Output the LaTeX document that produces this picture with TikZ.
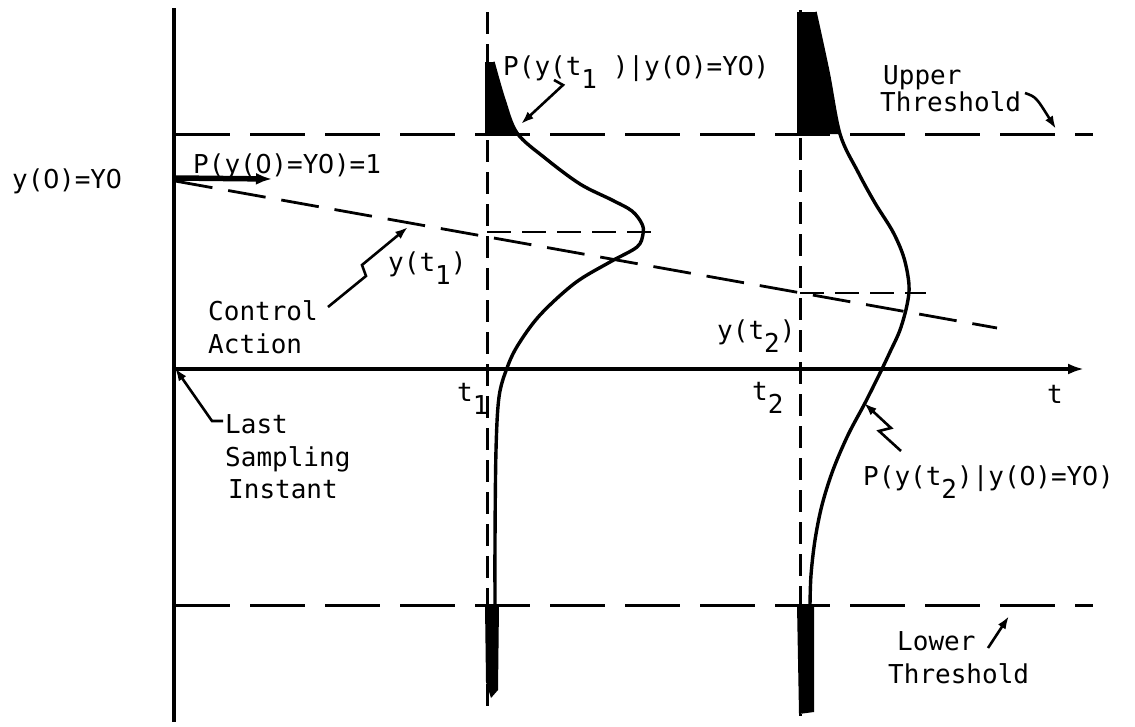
\documentclass[tikz,border=0pt]{standalone}
\usepackage{fontspec}
\usetikzlibrary{arrows.meta}
\newfontfamily\twfont{DejaVu Sans Mono}
\newfontfamily\plainzerofont{DejaVu Sans}
\newcommand\lowsub[1]{\raisebox{-13pt}{#1}}
\newcommand\zr{\makebox[0.602em][c]{\plainzerofont 0}}
\begin{document}
\begin{tikzpicture}[x=1pt,y=-1pt,
  lbl/.style={anchor=base west,inner sep=0pt,font=\twfont\fontsize{26}{32}\selectfont},
  axisline/.style={line width=3.4pt},
  curve/.style={line width=3.4pt,line join=round},
  vdash/.style={line width=3pt,dash pattern=on 22pt off 10pt},
  hthresh/.style={line width=3pt,dash pattern=on 55pt off 20pt},
  ctrl/.style={line width=2.8pt,dash pattern=on 38pt off 16pt},
  shortdash/.style={line width=2.8pt,dash pattern=on 24pt off 11pt},
  leader/.style={line width=2.6pt,-{Latex[length=13pt,width=9pt]}}]
\useasboundingbox (0,0) rectangle (1135,726);

% named coordinates
\coordinate (axTop) at (174,8);
\coordinate (axBot) at (174,722);
\coordinate (origin) at (174,369);
\coordinate (axEnd) at (1084,369);
\coordinate (t1Top) at (487,12);
\coordinate (t1Bot) at (487,716);
\coordinate (t2Top) at (800,10);
\coordinate (t2Bot) at (800,716);
\coordinate (utL) at (175,134);
\coordinate (utR) at (1093,134);
\coordinate (ltL) at (175,605);
\coordinate (ltR) at (1093,605);
\coordinate (ctrlA) at (175,181);
\coordinate (ctrlB) at (997,328);
\coordinate (y1L) at (487,232);
\coordinate (y1R) at (653,232);
\coordinate (y2L) at (800,293);
\coordinate (y2R) at (926,293);
\coordinate (p0A) at (175,178);
\coordinate (p0B) at (272,179);

% axes
\draw[axisline] (axTop) -- (axBot);
\draw[axisline,-{Latex[length=16pt,width=11pt]}] (origin) -- (axEnd);

% thresholds and verticals
\draw[hthresh] (utL) -- (utR);
\draw[hthresh] (ltL) -- (ltR);
\draw[vdash] (t1Top) -- (t1Bot);
\draw[vdash] (t2Top) -- (t2Bot);

% control action line
\draw[ctrl] (ctrlA) -- (ctrlB);
\draw[shortdash] (y1L) -- (y1R);
\draw[shortdash] (y2L) -- (y2R);

% initial probability arrow
\draw[line width=5.5pt,-{Latex[length=16pt,width=12pt]}] (p0A) -- (p0B);

% shaded tails
\fill (485,134) -- (485,62) -- plot[smooth] coordinates {(493,62) (504,100) (517,134)} -- cycle;
\fill (797,134) -- (797,12) -- plot[smooth] coordinates {(815,12) (828,72) (840,134)} -- cycle;
\fill (485,605) -- (499,605) -- (498,690) -- (491,698) -- (486,682) -- cycle;
\fill (797,605) -- (814,605) -- (814,712) -- (799,714) -- cycle;

% density curves
\draw[curve] plot[smooth,tension=0.55] coordinates {(493,62) (504,100) (517,133) (545,158) (580,184) (612,200) (632,211) (642,224) (643,234) (637,247) (610,262) (575,283) (540,315) (518,345) (507,368) (499,397) (496,450) (495,540) (495,605)};
\draw[curve] plot[smooth,tension=0.55] coordinates {(815,12) (828,72) (840,134) (858,172) (875,203) (893,232) (904,258) (909,285) (907,305) (900,330) (890,352) (880,373) (865,403) (848,435) (833,470) (822,505) (815,540) (811,575) (810,605)};

% labels
\node[lbl] (ly0) at (12,188) {y(\zr)=Y\zr};
\node[lbl] (lp0) at (193,173) {P(y(\zr)=Y\zr)=1};
\node[lbl] (lp1) at (503,75) {P(y(t\lowsub{1}\ )|y(\zr)=Y\zr)};
\node[lbl] (lup) at (883,84) {Upper};
\node[lbl] (luth) at (880,111) {Threshold};
\node[lbl] (lyt1) at (388,271) {y(t\lowsub{1})};
\node[lbl] (lctrl) at (208,320) {Control};
\node[lbl] (lact) at (208,353) {Action};
\node[lbl] (lt1) at (457,401) {t\lowsub{1}};
\node[lbl] (lyt2) at (717,339) {y(t\lowsub{2})};
\node[lbl] (lt2) at (752,400) {t\lowsub{2}};
\node[lbl] (lt) at (1047,403) {t};
\node[lbl] (llast) at (225,433) {Last};
\node[lbl] (lsamp) at (225,466) {Sampling};
\node[lbl] (linst) at (228,498) {Instant};
\node[lbl] (lp2) at (863,485) {P(y(t\lowsub{2})|y(\zr)=Y\zr)};
\node[lbl] (llow) at (897,650) {Lower};
\node[lbl] (llth) at (888,683) {Threshold};

% leader coordinates
\coordinate (a1s) at (554,80);
\coordinate (a1k) at (563,85);
\coordinate (a1e) at (521,124);
\coordinate (aus) at (1025,93);
\coordinate (aue) at (1056,129);
\coordinate (acs) at (328,307);
\coordinate (ack1) at (366,276);
\coordinate (ack2) at (362,265);
\coordinate (ace) at (408,227);
\coordinate (als) at (223,421);
\coordinate (alk) at (212,421);
\coordinate (ale) at (175,368);
\coordinate (a2s) at (901,451);
\coordinate (a2k1) at (879,431);
\coordinate (a2k2) at (891,428);
\coordinate (a2e) at (864,403);
\coordinate (als2) at (988,648);
\coordinate (ale2) at (1009,616);

% leaders
\draw[leader] (a1s) -- (a1k) -- (a1e);
\draw[leader] (aus) .. controls (1036,97) .. (aue);
\draw[leader] (acs) -- (ack1) -- (ack2) -- (ace);
\draw[leader] (als) -- (alk) -- (ale);
\draw[leader] (a2s) -- (a2k1) -- (a2k2) -- (a2e);
\draw[leader] (als2) -- (ale2);
\end{tikzpicture}
\end{document}
